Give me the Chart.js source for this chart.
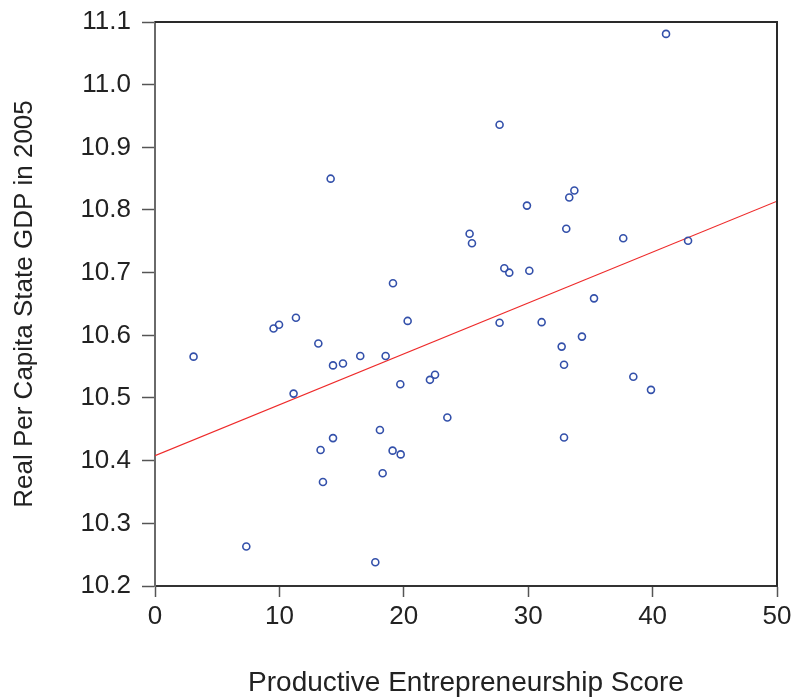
<!DOCTYPE html>
<html>
<head>
<meta charset="utf-8">
<script src="https://cdn.jsdelivr.net/npm/chart.js@4/dist/chart.umd.min.js"></script>
<style>
  html, body { margin: 0; padding: 0; background: #fff; }
  #wrap { width: 795px; height: 700px; position: relative; }
</style>
</head>
<body>
<div id="wrap"><canvas id="c" width="795" height="700"></canvas></div>
<script>
// Productive entrepreneurship score per state
const score = [3.10, 7.34, 9.53, 9.97, 11.33, 11.14, 13.13, 13.31, 13.50, 14.31, 15.11, 14.31,
  16.50, 17.71, 18.08, 18.30, 18.54, 19.10, 19.72, 19.75, 20.31, 22.10, 22.51, 23.50,
  14.12, 19.13, 41.08, 27.70, 25.29, 25.48, 29.90, 33.30, 33.71, 33.06, 37.64, 42.85,
  28.08, 28.48, 30.09, 35.29, 27.70, 31.08, 34.32, 32.69, 32.88, 38.45, 39.87, 32.88];

// Log real per capita state GDP, 2005
const gdp = [10.566, 10.263, 10.611, 10.617, 10.628, 10.507, 10.587, 10.417, 10.366, 10.552, 10.555, 10.436,
  10.567, 10.238, 10.449, 10.380, 10.567, 10.416, 10.522, 10.410, 10.623, 10.529, 10.537, 10.469,
  10.850, 10.683, 11.081, 10.936, 10.762, 10.747, 10.807, 10.820, 10.831, 10.770, 10.755, 10.751,
  10.707, 10.700, 10.703, 10.659, 10.620, 10.621, 10.598, 10.582, 10.553, 10.534, 10.513, 10.437];

// Fitted regression line end points
const fitX = [0, 50];
const fitY = [10.408, 10.814];

// Axis ticks
const xTicks = [0, 10, 20, 30, 40, 50];
const yTicks = [10.2, 10.3, 10.4, 10.5, 10.6, 10.7, 10.8, 10.9, 11.0, 11.1];

const FONT = "'Liberation Sans', Arial, Helvetica, sans-serif";

const points = score.map((x, i) => ({ x: x, y: gdp[i] }));
const fitLine = fitX.map((x, i) => ({ x: x, y: fitY[i] }));

// Closes the plot box along the top and right edges
const frame = {
  id: 'frame',
  afterDraw(chart) {
    const { ctx, chartArea: a } = chart;
    ctx.save();
    ctx.strokeStyle = '#2a2a2a';
    ctx.lineWidth = 2;
    ctx.beginPath();
    ctx.moveTo(a.left, a.top);
    ctx.lineTo(a.right, a.top);
    ctx.lineTo(a.right, a.bottom);
    ctx.stroke();
    ctx.restore();
  }
};

new Chart(document.getElementById('c'), {
  type: 'scatter',
  data: {
    datasets: [
      {
        type: 'line',
        data: fitLine,
        borderColor: '#ee2a2a',
        borderWidth: 1.2,
        pointRadius: 0,
        fill: false,
        order: 2
      },
      {
        data: points,
        pointStyle: 'circle',
        pointRadius: 3.5,
        borderWidth: 1.6,
        borderColor: '#3350aa',
        backgroundColor: 'rgba(0,0,0,0)',
        order: 1
      }
    ]
  },
  options: {
    responsive: false,
    animation: false,
    events: [],
    layout: { padding: { top: 22, right: 18, left: 0, bottom: 0 } },
    plugins: { legend: { display: false }, tooltip: { enabled: false } },
    scales: {
      x: {
        type: 'linear',
        min: 0,
        max: 50,
        afterBuildTicks: s => { s.ticks = xTicks.map(v => ({ value: v })); },
        afterFit: s => { s.height = 114; s.paddingLeft = 0; s.paddingRight = 0; },
        ticks: {
          padding: 4,
          color: '#222',
          font: { family: FONT, size: 26 },
          callback: v => String(v)
        },
        grid: { drawOnChartArea: false, drawTicks: true, tickLength: 11, color: '#555', tickWidth: 1.5 },
        border: { display: true, color: '#333', width: 2 },
        title: {
          display: true,
          text: 'Productive Entrepreneurship Score',
          color: '#222',
          font: { family: FONT, size: 28 },
          padding: { top: 3, bottom: 0 }
        }
      },
      y: {
        type: 'linear',
        min: 10.2,
        max: 11.1,
        afterBuildTicks: s => { s.ticks = yTicks.map(v => ({ value: v })); },
        afterFit: s => { s.width = 155; s.paddingTop = 0; s.paddingBottom = 0; },
        ticks: {
          padding: 11,
          color: '#222',
          font: { family: FONT, size: 26 },
          callback: v => Number(v).toFixed(1)
        },
        grid: { drawOnChartArea: false, drawTicks: true, tickLength: 13, color: '#555', tickWidth: 1.5 },
        border: { display: true, color: '#6a6a6a', width: 2 },
        title: {
          display: true,
          text: 'Real Per Capita State GDP in 2005',
          color: '#222',
          font: { family: FONT, size: 26 },
          padding: { top: 9, bottom: 0 }
        }
      }
    }
  },
  plugins: [frame]
});
</script>
</body>
</html>
